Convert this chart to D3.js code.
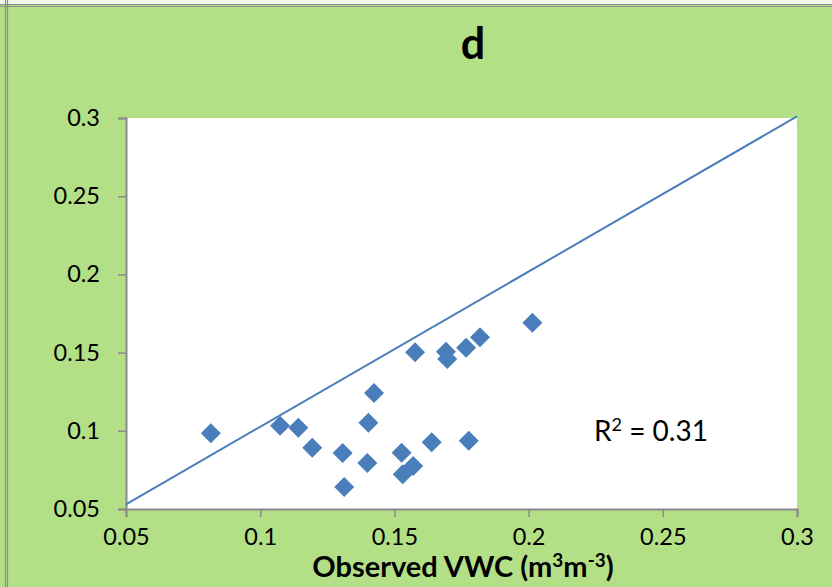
<!DOCTYPE html>
<html>
<head>
<meta charset="utf-8">
<script src="https://cdn.jsdelivr.net/npm/d3@7"></script>
<style>
    html, body { margin: 0; padding: 0; background: #fff; }
    svg { display: block; }
    text { font-family: Lato, "Open Sans", sans-serif; fill: #000; }
</style>
</head>
<body>
<div id="chart"></div>
<script>
// Observed vs simulated VWC, panel d
const observed = [0.0816, 0.1074, 0.1142, 0.1194, 0.1307, 0.1313, 0.1403, 0.1399, 0.1424, 0.1577,
                  0.1692, 0.1697, 0.1767, 0.1819, 0.2014, 0.1639, 0.1777, 0.1527, 0.1570, 0.1531];
const simulated = [0.0984, 0.1033, 0.1020, 0.0892, 0.0858, 0.0641, 0.1052, 0.0794, 0.1242, 0.1502,
                   0.1506, 0.1459, 0.1531, 0.1598, 0.1691, 0.0926, 0.0937, 0.0860, 0.0775, 0.0722];
const refLine = [[0.05, 0.053], [0.3, 0.301]];
const xTicks = [0.05, 0.1, 0.15, 0.2, 0.25, 0.3];
const yTicks = [0.05, 0.1, 0.15, 0.2, 0.25, 0.3];
const r2Label = '0.31';

const width = 832, height = 587;
const plot = { left: 126, right: 797, top: 118, bottom: 509 };

const svg = d3.select('#chart')
    .append('svg')
    .attr('width', width)
    .attr('height', height);

// green chart background + window frame
svg.append('rect')
    .attr('width', width).attr('height', height)
    .attr('fill', '#b3df86');
svg.append('rect')
    .attr('width', width).attr('height', 4)
    .attr('fill', '#f2f7ec');
[4, 6].forEach(y => svg.append('line')
    .attr('x1', 0).attr('x2', width).attr('y1', y + 0.5).attr('y2', y + 0.5)
    .attr('stroke', '#8c8c8c').attr('stroke-width', 1.2));
[5, 7].forEach(x => svg.append('line')
    .attr('x1', x + 0.5).attr('x2', x + 0.5).attr('y1', 0).attr('y2', height)
    .attr('stroke', '#8c8c8c').attr('stroke-width', 1.2));

const x = d3.scaleLinear().domain([0.05, 0.3]).range([plot.left, plot.right]);
const y = d3.scaleLinear().domain([0.05, 0.3]).range([plot.bottom, plot.top]);

svg.append('rect')
    .attr('x', plot.left).attr('y', plot.top)
    .attr('width', plot.right - plot.left)
    .attr('height', plot.bottom - plot.top)
    .attr('fill', '#fff');

// axes
const xAxis = svg.append('g')
    .attr('transform', `translate(0,${plot.bottom})`)
    .call(d3.axisBottom(x).tickValues(xTicks).tickSize(8).tickPadding(11).tickFormat(d3.format('')));
const yAxis = svg.append('g')
    .attr('transform', `translate(${plot.left},0)`)
    .call(d3.axisLeft(y).tickValues(yTicks).tickSize(8).tickPadding(18).tickFormat(d3.format('')));

[xAxis, yAxis].forEach(g => {
    g.select('.domain').attr('stroke', '#8a8a8a').attr('stroke-width', 2);
    g.selectAll('.tick line').attr('stroke', '#8a8a8a').attr('stroke-width', 1.5);
    g.selectAll('.tick text')
        .attr('font-family', 'Lato, sans-serif')
        .attr('font-size', 23.5)
        .attr('fill', '#000');
});

// 1:1 style line
svg.append('line')
    .attr('x1', x(refLine[0][0])).attr('y1', y(refLine[0][1]))
    .attr('x2', x(refLine[1][0])).attr('y2', y(refLine[1][1]))
    .attr('stroke', '#4a7ebb')
    .attr('stroke-width', 2);

// diamonds
const points = observed.map((o, i) => ({ obs: o, sim: simulated[i] }));
svg.append('g')
    .selectAll('path')
    .data(points)
    .join('path')
    .attr('d', d3.symbol().type(d3.symbolSquare).size(200))
    .attr('transform', d => `translate(${x(d.obs)},${y(d.sim)}) rotate(45)`)
    .attr('fill', '#4a7ebb');

// labels
svg.append('text')
    .attr('x', 473).attr('y', 59)
    .attr('text-anchor', 'middle')
    .attr('font-size', 43)
    .attr('font-weight', 'bold')
    .text('d');

const r2 = svg.append('text')
    .attr('x', 594).attr('y', 441)
    .attr('font-size', 28);
r2.append('tspan').text('R');
r2.append('tspan').attr('font-size', 18).attr('dy', -10).text('2');
r2.append('tspan').attr('dy', 10).text(` = ${r2Label}`);

const title = svg.append('text')
    .attr('x', 463).attr('y', 577)
    .attr('text-anchor', 'middle')
    .attr('font-size', 29)
    .attr('font-weight', 'bold');
title.append('tspan').text('Observed VWC (m');
title.append('tspan').attr('font-size', 19).attr('dy', -10).text('3');
title.append('tspan').attr('dy', 10).text('m');
title.append('tspan').attr('font-size', 19).attr('dy', -10).text('-3');
title.append('tspan').attr('dy', 10).text(')');
</script>
</body>
</html>
